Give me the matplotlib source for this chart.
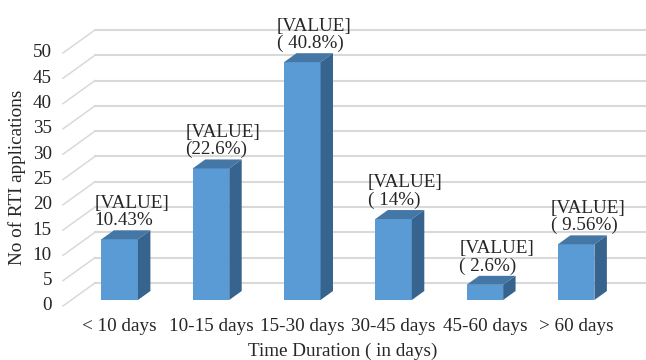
import matplotlib
matplotlib.use('Agg')
from matplotlib import pyplot as plt

# days taken to dispose RTI applications
categories = ['< 10 days', '10-15 days', '15-30 days', '30-45 days', '45-60 days', '> 60 days']
counts = [12, 26, 47, 16, 3, 11]
shares = ['10.43%', '(22.6%)', '( 40.8%)', '( 14%)', '( 2.6%)', '( 9.56%)']
y_ticks = [0, 5, 10, 15, 20, 25, 30, 35, 40, 45, 50]

plt.rcParams['font.family'] = ['Liberation Serif', 'DejaVu Serif']
fs = 13.8
text_color = '#262626'
grid_color = '#d9d9d9'
face_front = '#5b9bd5'
face_top = '#4477a6'
face_side = '#37648e'

fig = plt.figure(figsize=(6.46, 3.6), dpi=100)
ax = fig.add_axes([0, 0, 1, 1])
ax.set_xlim(-1.311, 5.765)
ax.set_ylim(-11.86, 59.29)
ax.axis('off')

# fake 3d: depth d runs 0 (front of floor) -> 1 (back wall)
DX, DY = 0.35, 4.55
D_FRONT, D_BACK = 0.26, 0.65
WALL_X = -0.53
RIGHT = 5.8


def proj(x, y, d):
    return x + (d - D_FRONT) * DX, y + (d - D_FRONT) * DY


# wall gridlines and the slanted lines on the left side
for t in y_ticks:
    x0, y0 = proj(WALL_X, t, 0)
    x1, y1 = proj(WALL_X, t, 1)
    ax.plot([x0, x1], [y0, y1], color=grid_color, lw=1.1, zorder=1)
    ax.plot([x1, RIGHT], [y1, y1], color=grid_color, lw=1.5, zorder=1)
    ax.annotate(str(t), (x0, y0), xytext=(-8, 0), textcoords='offset points',
                ha='right', va='center', fontsize=fs, color=text_color)

# bars: front face, top, right side
w = 0.2
for i, v in enumerate(counts):
    ax.bar(i, v, width=2 * w, color=face_front, zorder=3)
    bl = proj(i - w, v, D_BACK)
    br = proj(i + w, v, D_BACK)
    bb = proj(i + w, 0, D_BACK)
    ax.fill([i - w, i + w, br[0], bl[0]], [v, v, br[1], bl[1]],
            color=face_top, lw=0, zorder=3)
    ax.fill([i + w, br[0], bb[0], i + w], [v, br[1], bb[1], 0],
            color=face_side, lw=0, zorder=3)
    ax.text(i + 0.13, br[1] + 0.2, '[VALUE]\n' + shares[i], ha='center', va='bottom',
            multialignment='left', linespacing=1.02, fontsize=fs, color=text_color,
            zorder=4)
    ax.text(i, -5.3, categories[i], ha='center', va='center', fontsize=fs,
            color=text_color)

ax.text(0.531, 0.025, 'Time Duration ( in days)', transform=ax.transAxes,
        ha='center', va='center', fontsize=fs, color=text_color)
ax.text(0.027, 0.508, 'No of RTI applications', transform=ax.transAxes, rotation=90,
        ha='center', va='center', fontsize=fs, color=text_color)

fig.savefig('out.png', dpi=100)
